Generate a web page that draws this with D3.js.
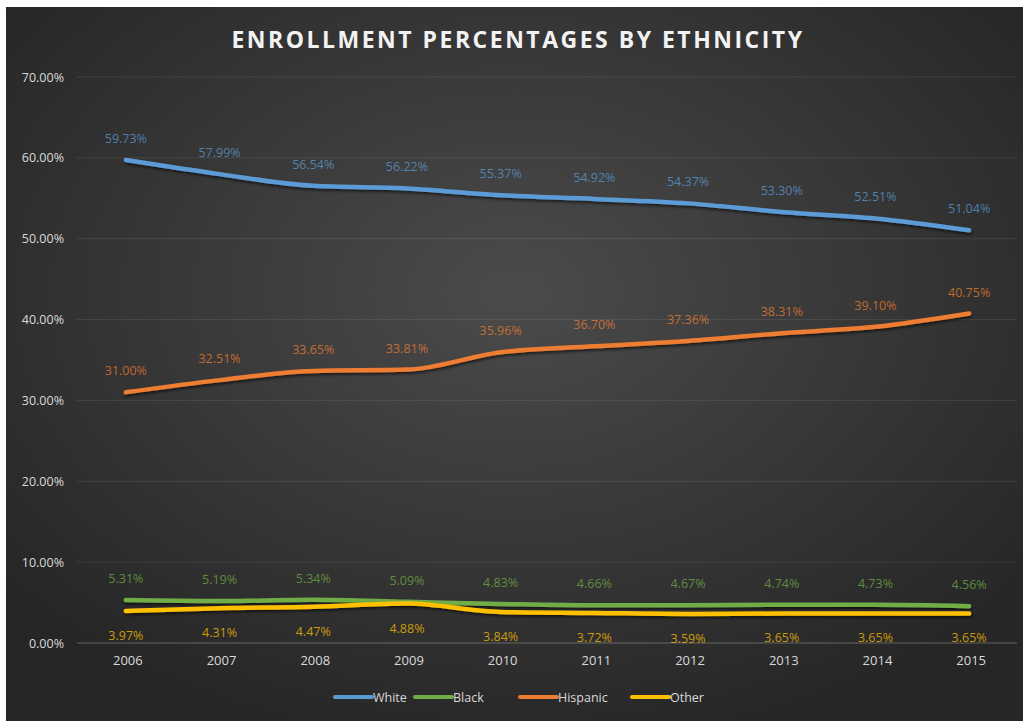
<!DOCTYPE html>
<html>
<head>
<meta charset="utf-8">
<script src="https://cdn.jsdelivr.net/npm/d3@7"></script>
<style>
  html, body { margin: 0; padding: 0; background: #ffffff; }
  svg { display: block; }
  text { font-family: "Open Sans", "Noto Sans", sans-serif; }
</style>
</head>
<body>
<svg id="chart" width="1023" height="721"></svg>
<script>
const years = ["2006","2007","2008","2009","2010","2011","2012","2013","2014","2015"];
const seriesNames = ["White","Black","Hispanic","Other"];
const white    = [59.73,57.99,56.54,56.22,55.37,54.92,54.37,53.30,52.51,51.04];
const black    = [5.31,5.19,5.34,5.09,4.83,4.66,4.67,4.74,4.73,4.56];
const hispanic = [31.00,32.51,33.65,33.81,35.96,36.70,37.36,38.31,39.10,40.75];
const other    = [3.97,4.31,4.47,4.88,3.84,3.72,3.59,3.65,3.65,3.65];
const yTicks   = [0,10,20,30,40,50,60,70];
const title    = "ENROLLMENT PERCENTAGES BY ETHNICITY";
const colors   = ["#5b9bd5","#70ad47","#ed7d31","#ffc000"];
const labelBelow = [false,false,false,true];

const seriesValues = [white, black, hispanic, other];
const svg = d3.select("#chart");

// background with radial gradient
const defs = svg.append("defs");
const rg = defs.append("radialGradient").attr("id","bg")
  .attr("cx","50%").attr("cy","40%").attr("r","65%");
rg.append("stop").attr("offset","0%").attr("stop-color","#4b4b4b");
rg.append("stop").attr("offset","100%").attr("stop-color","#262626");
const shadow = defs.append("filter").attr("id","shadow")
  .attr("x","-5%").attr("y","-50%").attr("width","110%").attr("height","200%");
shadow.append("feDropShadow").attr("dx",1).attr("dy",2).attr("stdDeviation",1.5)
  .attr("flood-color","#000").attr("flood-opacity",0.6);

svg.append("rect").attr("x",6).attr("y",7).attr("width",1017).attr("height",714)
  .attr("fill","url(#bg)");

const x = d3.scaleBand().domain(years).range([79,1016]);
const y = d3.scaleLinear().domain([0,70]).range([643,77]);

// gridlines
svg.append("g").selectAll("line").data(yTicks).join("line")
  .attr("x1",77).attr("x2",1017)
  .attr("y1",d=>y(d)).attr("y2",d=>y(d))
  .attr("stroke","#ffffff")
  .attr("stroke-opacity",d=> d===0 ? 0.28 : 0.09)
  .attr("stroke-width",1);

// y axis labels
const yAxis = d3.axisLeft(y).tickValues(yTicks).tickSize(0).tickPadding(0)
  .tickFormat(d=>d3.format(".2f")(d)+"%");
const yg = svg.append("g").attr("transform","translate(64,0)").call(yAxis);
yg.select(".domain").remove();
yg.selectAll("text").attr("fill","#d9d9d9").attr("font-size",12.5)
  .attr("font-family","'Open Sans', sans-serif");

// x axis labels
const xAxis = d3.axisBottom(x).tickSize(0).tickPadding(0);
const xg = svg.append("g").attr("transform","translate(2,656)").call(xAxis);
xg.select(".domain").remove();
xg.selectAll("text").attr("fill","#d9d9d9").attr("font-size",13)
  .attr("font-family","'Open Sans', sans-serif");

// title
svg.append("text").attr("x",518).attr("y",48).attr("text-anchor","middle")
  .attr("fill","#f2f2f2").attr("font-size",23).attr("font-weight","bold")
  .attr("letter-spacing",2.5)
  .attr("font-family","'Open Sans', sans-serif")
  .text(title);

const line = d3.line()
  .x((d,i)=>x(years[i]) + x.bandwidth()/2)
  .y(d=>y(d))
  .curve(d3.curveMonotoneX);

// lines
seriesValues.forEach((vals,si)=>{
  svg.append("path").datum(vals)
    .attr("d",line)
    .attr("fill","none")
    .attr("stroke",colors[si])
    .attr("stroke-width",4.5)
    .attr("stroke-linecap","round")
    .attr("filter","url(#shadow)");
});

// data labels
seriesValues.forEach((vals,si)=>{
  svg.append("g").selectAll("text").data(vals).join("text")
    .attr("x",(d,i)=>x(years[i]) + x.bandwidth()/2)
    .attr("y",d=> labelBelow[si] ? y(d)+29 : y(d)-17)
    .attr("text-anchor","middle")
    .attr("fill",colors[si])
    .attr("fill-opacity",0.75)
    .attr("font-size",12.5)
    .text(d=>d3.format(".2f")(d)+"%");
});

// legend
const legendX = [335,415,520,632];
const lg = svg.append("g");
seriesNames.forEach((name,i)=>{
  lg.append("line").attr("x1",legendX[i]).attr("x2",legendX[i]+37)
    .attr("y1",697).attr("y2",697)
    .attr("stroke",colors[i]).attr("stroke-width",4).attr("stroke-linecap","round");
  lg.append("text").attr("x",legendX[i]+38).attr("y",701.5)
    .attr("fill","#d9d9d9").attr("font-size",12.5)
    .text(name);
});
</script>
</body>
</html>
